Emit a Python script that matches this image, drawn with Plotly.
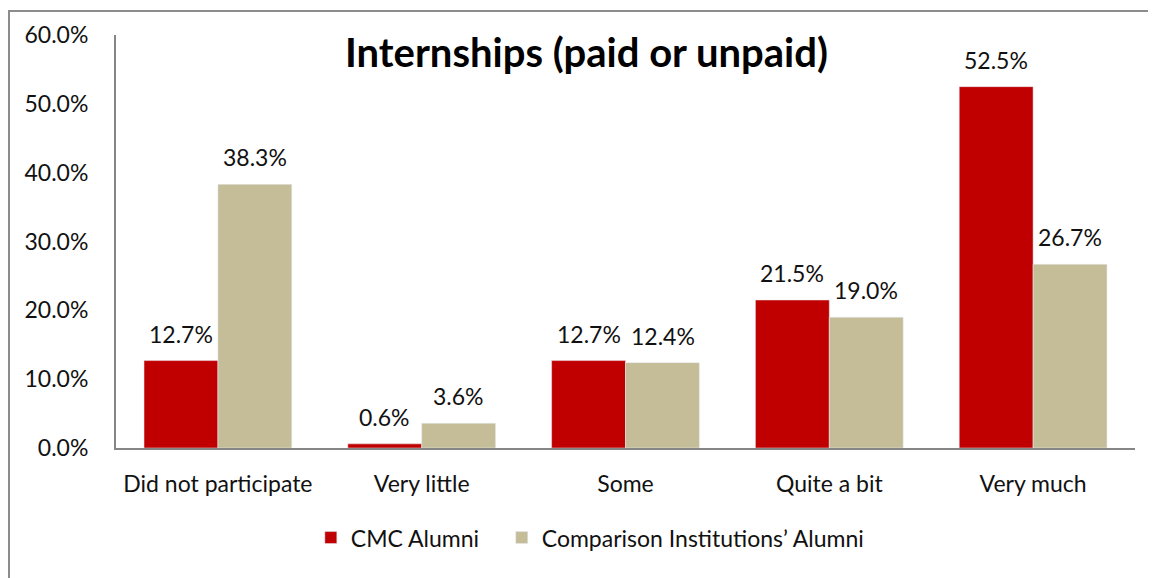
import plotly.graph_objects as go

categories = ["Did not participate", "Very little", "Some", "Quite a bit", "Very much"]
cmc = [12.7, 0.6, 12.7, 21.5, 52.5]
comparison = [38.3, 3.6, 12.4, 19.0, 26.7]
y_ticks = [0, 10, 20, 30, 40, 50, 60]

FONT = "Lato, 'Open Sans', sans-serif"
RED, TAN = "#C00000", "#C4BD97"

fig = go.Figure()
fig.add_trace(go.Bar(x=categories, y=cmc, name="CMC Alumni   ", marker_color=RED))
fig.add_trace(go.Bar(x=categories, y=comparison, name="Comparison Institutions’ Alumni",
                     marker_color=TAN))

# value labels sit a little higher above the bars than plotly's "outside" text
labels = []
for series, shift in ((cmc, -37), (comparison, 37)):
    for cat, v in zip(categories, series):
        labels.append(dict(x=cat, y=v, xref="x", yref="y", text=f"{v:.1f}%", showarrow=False,
                           xshift=shift, yanchor="bottom", yshift=11,
                           font=dict(size=23, color="#111")))

title = dict(text="<b>Internships (paid or unpaid)</b>", x=0.462, xref="paper",
             y=57.6, yref="y", showarrow=False, font=dict(size=40, color="#000"))

fig.update_layout(
    width=1148, height=570, barmode="group", bargap=0.275, bargroupgap=0,
    plot_bgcolor="white", paper_bgcolor="white",
    font=dict(family=FONT, size=23, color="#111"),
    margin=dict(l=108, r=21, t=25, b=130),
    xaxis=dict(showline=True, linecolor="#868686", linewidth=2, ticks="",
               ticklabelstandoff=14, showgrid=False),
    yaxis=dict(range=[0, 60], tickvals=y_ticks, ticktext=[f"{v:.1f}%" for v in y_ticks],
               showline=True, linecolor="#868686", linewidth=2, showgrid=False,
               ticks="", ticklabelstandoff=21, zeroline=False),
    legend=dict(orientation="h", x=0.465, xanchor="center", y=-0.217, yanchor="middle",
                itemwidth=30, traceorder="normal"),
    annotations=labels + [title],
    shapes=[dict(type="rect", xref="paper", yref="paper", x0=-0.105, x1=1.1, y0=-0.4, y1=1.058,
                 line=dict(color="#8c8c8c", width=2), layer="below")],
)

fig.write_html("out.html")
